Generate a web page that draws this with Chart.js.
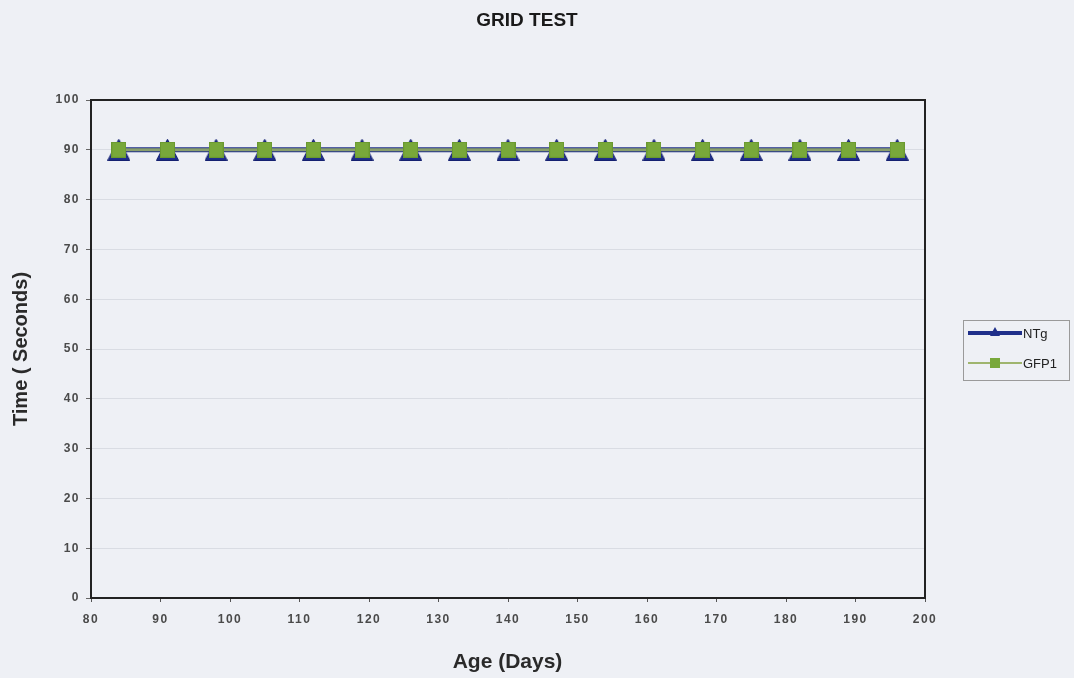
<!DOCTYPE html>
<html>
<head>
<meta charset="utf-8">
<script src="https://cdn.jsdelivr.net/npm/chart.js@4.4.1/dist/chart.umd.min.js"></script>
<style>
  html, body { margin: 0; padding: 0; background: #eef0f5; }
  #wrap { width: 1074px; height: 678px; position: relative; }
</style>
</head>
<body>
<div id="wrap"><canvas id="c" width="1074" height="678"></canvas></div>
<script>
// ---- data ----
const chartTitle = 'GRID TEST';
const ageDays = [84, 91, 98, 105, 112, 119, 126, 133, 140, 147, 154, 161, 168, 175, 182, 189, 196];
const ntgTimes = [90, 90, 90, 90, 90, 90, 90, 90, 90, 90, 90, 90, 90, 90, 90, 90, 90];
const gfp1Times = [90, 90, 90, 90, 90, 90, 90, 90, 90, 90, 90, 90, 90, 90, 90, 90, 90];
const seriesNames = ['NTg', 'GFP1'];
const xTitle = 'Age (Days)';
const yTitle = 'Time ( Seconds)';

// ---- styles ----
const BG = '#eef0f5';
const NTG_COLOR = '#1f2f8a';
const GFP_LINE = '#8a9f6c';
const GFP_FILL = '#78a83a';
const FONT = '"Liberation Sans", Arial, sans-serif';

function triMarker(w, h) {
  const c = document.createElement('canvas');
  c.width = w; c.height = h;
  const g = c.getContext('2d');
  g.beginPath();
  g.moveTo(w / 2, 0.5); g.lineTo(w - 0.5, h - 0.5); g.lineTo(0.5, h - 0.5); g.closePath();
  g.fillStyle = NTG_COLOR; g.fill();
  g.strokeStyle = '#142070'; g.lineWidth = 1; g.stroke();
  return c;
}
function sqMarker(w, h) {
  const c = document.createElement('canvas');
  c.width = w; c.height = h;
  const g = c.getContext('2d');
  g.fillStyle = GFP_FILL; g.fillRect(0, 0, w, h);
  g.strokeStyle = '#6a9830'; g.lineWidth = 1; g.strokeRect(0.5, 0.5, w - 1, h - 1);
  return c;
}
const triImg = triMarker(23, 22);
const sqImg = sqMarker(15, 16);

const decorPlugin = {
  id: 'decor',
  beforeDraw(chart) {
    const ctx = chart.ctx;
    ctx.save();
    ctx.fillStyle = BG;
    ctx.fillRect(0, 0, chart.width, chart.height);
    ctx.restore();
    ctx.letterSpacing = '1.5px';
  },
  beforeDatasetsDraw(chart) {
    chart.ctx.letterSpacing = '0px';
  },
  afterDraw(chart) {
    const ctx = chart.ctx;
    const a = chart.chartArea;
    ctx.save();
    ctx.letterSpacing = '0px';
    // plot border
    ctx.strokeStyle = '#222';
    ctx.lineWidth = 2;
    ctx.strokeRect(a.left, a.top, a.right - a.left, a.bottom - a.top);
    // title
    ctx.fillStyle = '#1a1a1a';
    ctx.font = 'bold 19px ' + FONT;
    ctx.textAlign = 'center';
    ctx.textBaseline = 'middle';
    ctx.fillText(chartTitle, 527, 21);
    // axis titles
    ctx.font = 'bold 21px ' + FONT;
    ctx.fillStyle = '#2a2a2a';
    ctx.fillText(xTitle, (a.left + a.right) / 2 - 0.5, 662);
    ctx.font = 'bold 20px ' + FONT;
    ctx.save();
    ctx.translate(21, (a.top + a.bottom) / 2);
    ctx.rotate(-Math.PI / 2);
    ctx.fillText(yTitle, 0, 0);
    ctx.restore();
    // legend
    const lx = 963, ly = 320, lw = 106, lh = 60;
    ctx.fillStyle = BG;
    ctx.fillRect(lx, ly, lw, lh);
    ctx.strokeStyle = '#9a9a9a';
    ctx.lineWidth = 1;
    ctx.strokeRect(lx + 0.5, ly + 0.5, lw, lh);
    const ds = chart.data.datasets;
    const rows = [333, 363];
    ds.forEach((d, i) => {
      const y = rows[i];
      ctx.strokeStyle = i === 0 ? NTG_COLOR : '#9fb56e';
      ctx.lineWidth = i === 0 ? 4 : 2;
      ctx.beginPath(); ctx.moveTo(968, y); ctx.lineTo(1022, y); ctx.stroke();
      if (i === 0) {
        ctx.fillStyle = NTG_COLOR;
        ctx.beginPath(); ctx.moveTo(995, y - 6); ctx.lineTo(1000, y + 3); ctx.lineTo(990, y + 3); ctx.closePath(); ctx.fill();
      } else {
        ctx.fillStyle = GFP_FILL;
        ctx.fillRect(990, y - 5, 10, 10);
      }
      ctx.fillStyle = '#222';
      ctx.font = '13px ' + FONT;
      ctx.textAlign = 'left';
      ctx.fillText(d.label, 1023, y + 1);
    });
    ctx.restore();
  }
};

const tickFont = { family: FONT, size: 12, weight: 'bold' };

new Chart(document.getElementById('c'), {
  type: 'line',
  data: {
    datasets: [
      {
        label: seriesNames[0],
        data: ageDays.map((d, i) => ({ x: d, y: ntgTimes[i] })),
        borderColor: NTG_COLOR,
        borderWidth: 5,
        pointStyle: triImg,
        pointRadius: 11,
        pointHoverRadius: 11,
        fill: false,
        tension: 0,
        order: 1
      },
      {
        label: seriesNames[1],
        data: ageDays.map((d, i) => ({ x: d, y: gfp1Times[i] })),
        borderColor: GFP_LINE,
        borderWidth: 3,
        pointStyle: sqImg,
        pointRadius: 8,
        pointHoverRadius: 8,
        fill: false,
        tension: 0,
        order: 0
      }
    ]
  },
  options: {
    responsive: false,
    animation: false,
    events: [],
    layout: { padding: { top: 100, right: 149, left: 0, bottom: 0 } },
    plugins: {
      legend: { display: false },
      title: { display: false },
      tooltip: { enabled: false }
    },
    scales: {
      x: {
        type: 'linear',
        min: 80, max: 200,
        afterFit(s) { s.height = 80; },
        ticks: { stepSize: 10, color: '#4a4a4a', font: tickFont, padding: 10, maxRotation: 0 },
        grid: { display: true, drawOnChartArea: false, drawTicks: true, tickLength: 4, color: '#555' },
        border: { color: '#222', width: 2 },
        title: { display: false }
      },
      y: {
        min: 0, max: 100,
        afterFit(s) { s.width = 91; },
        ticks: { stepSize: 10, color: '#4a4a4a', font: tickFont, padding: 6 },
        grid: { color: '#d9dce3', lineWidth: 1, tickLength: 5, tickColor: '#666' },
        border: { color: '#222', width: 2 },
        title: { display: false }
      }
    }
  },
  plugins: [decorPlugin]
});
</script>
</body>
</html>
